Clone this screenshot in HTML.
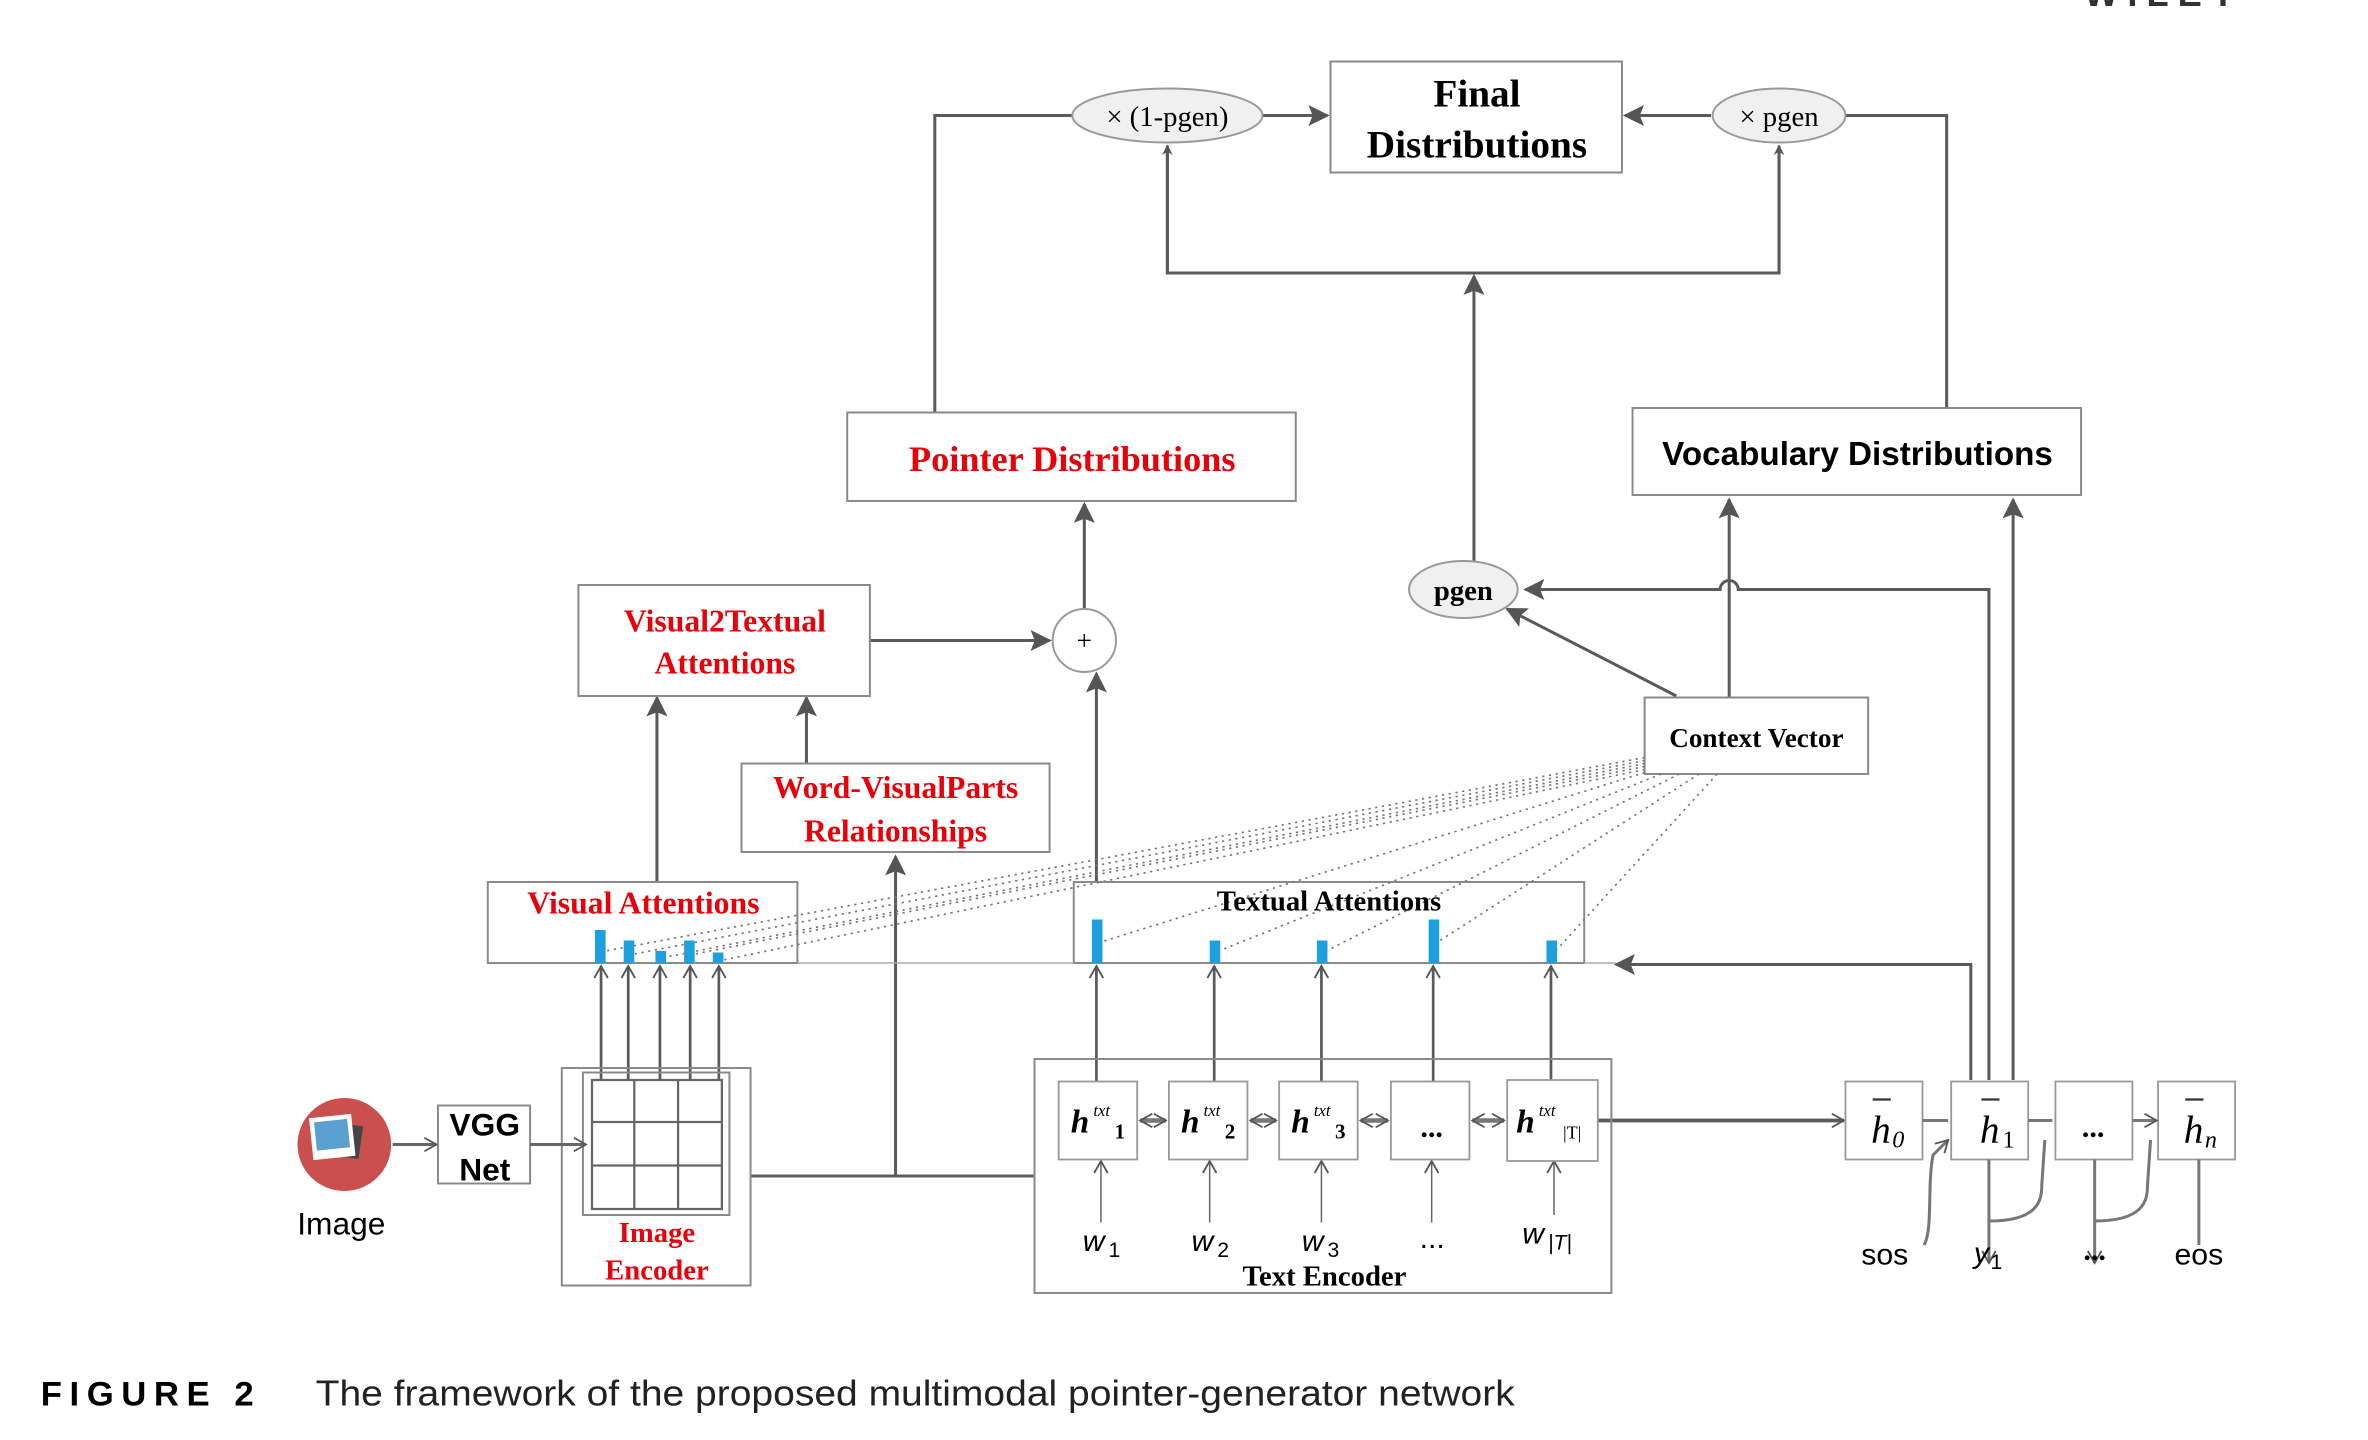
<!DOCTYPE html>
<html><head><meta charset="utf-8"><style>
html,body{margin:0;padding:0;background:#fff;width:2368px;height:1440px;overflow:hidden}
svg{display:block}
.s{font-family:"Liberation Serif",serif;font-weight:bold}
.a{font-family:"Liberation Sans",sans-serif}
</style></head><body>
<svg width="2368" height="1440" viewBox="0 0 1568 960" preserveAspectRatio="none" xmlns="http://www.w3.org/2000/svg">
<defs>
<marker id="m" viewBox="0 0 10 10" refX="9" refY="5" markerWidth="7" markerHeight="7" orient="auto" markerUnits="userSpaceOnUse">
<path d="M0,0 L10,5 L0,10 L3,5 z" fill="#555"/></marker>
<marker id="o" viewBox="0 0 10 10" refX="9" refY="5" markerWidth="10" markerHeight="10" orient="auto" markerUnits="userSpaceOnUse">
<path d="M1,0.5 L9,5 L1,9.5" fill="none" stroke="#555" stroke-width="1.2"/></marker>
<marker id="os" viewBox="0 0 10 10" refX="1" refY="5" markerWidth="10" markerHeight="10" orient="auto" markerUnits="userSpaceOnUse">
<path d="M9,0.5 L1,5 L9,9.5" fill="none" stroke="#555" stroke-width="1.2"/></marker>
<marker id="m2" viewBox="0 0 10 10" refX="9" refY="5" markerWidth="16" markerHeight="14" orient="auto" markerUnits="userSpaceOnUse">
<path d="M0,0 L10,5 L0,10 L2,5 z" fill="#555"/></marker>
</defs>
<g stroke="#5a5a5a" stroke-width="2" fill="none">
<polyline points="619,275 619,77 710,77"/>
<line x1="836" y1="77" x2="879" y2="77" marker-end="url(#m2)"/>
<line x1="1133" y1="77" x2="1076" y2="77" marker-end="url(#m2)"/>
<polyline points="1222,77 1289,77 1289,272"/>
<polyline points="773,99 773,182 1178,182 1178,99"/>
<line x1="773" y1="182" x2="773" y2="97" marker-end="url(#m)"/>
<line x1="1178" y1="182" x2="1178" y2="97" marker-end="url(#m)"/>
<line x1="976" y1="375" x2="976" y2="184" marker-end="url(#m2)"/>
<path d="M1317,720 L1317,393 L1151,393 A6,6 0 0 0 1139,393 L1010,393" marker-end="url(#m2)"/>
<line x1="1110" y1="464" x2="998" y2="406" marker-end="url(#m2)"/>
<line x1="1145" y1="465" x2="1145" y2="333" marker-end="url(#m2)"/>
<line x1="1333" y1="720" x2="1333" y2="333" marker-end="url(#m2)"/>
<line x1="576" y1="427" x2="695" y2="427" marker-end="url(#m2)"/>
<line x1="718" y1="406" x2="718" y2="336" marker-end="url(#m2)"/>
<line x1="726" y1="588" x2="726" y2="449" marker-end="url(#m2)"/>
<line x1="534" y1="509" x2="534" y2="465" marker-end="url(#m2)"/>
<line x1="435" y1="588" x2="435" y2="465" marker-end="url(#m2)"/>
<polyline points="497,784 685,784"/>
<line x1="593" y1="784" x2="593" y2="571" marker-end="url(#m2)"/>
<polyline points="1305,720 1305,643 1070,643" marker-end="url(#m2)"/>
<line x1="1058" y1="747" x2="1221" y2="747" marker-end="url(#o)" stroke-width="2.5"/>
</g>
<g stroke="#5a5a5a" stroke-width="1.8" fill="none" marker-end="url(#o)">
<line x1="398" y1="720" x2="398" y2="644"/><line x1="416" y1="720" x2="416" y2="644"/>
<line x1="437" y1="720" x2="437" y2="644"/><line x1="457" y1="720" x2="457" y2="644"/>
<line x1="476" y1="720" x2="476" y2="644"/>
<line x1="726" y1="721" x2="726" y2="644"/><line x1="804" y1="721" x2="804" y2="644"/>
<line x1="875" y1="721" x2="875" y2="644"/><line x1="949" y1="721" x2="949" y2="644"/>
<line x1="1027" y1="721" x2="1027" y2="644"/>
</g>
<g stroke="#666" stroke-width="1" fill="none" marker-end="url(#o)">
<line x1="729" y1="815" x2="729" y2="774"/><line x1="801" y1="815" x2="801" y2="774"/>
<line x1="875" y1="815" x2="875" y2="774"/><line x1="948" y1="815" x2="948" y2="774"/>
<line x1="1029" y1="810" x2="1029" y2="774"/>
</g>
<g fill="#fff" stroke="#888" stroke-width="1.3">
<rect x="881" y="41" width="193" height="74"/>
<rect x="561" y="275" width="297" height="59"/>
<rect x="1081" y="272" width="297" height="58"/>
<rect x="383" y="390" width="193" height="74"/>
<rect x="491" y="509" width="204" height="59"/>
<rect x="1089" y="465" width="148" height="51"/>
<rect x="323" y="588" width="205" height="54" fill="none"/>
<rect x="711" y="588" width="338" height="54" fill="none"/>
<rect x="372" y="712" width="125" height="145" fill="none"/>
<rect x="386" y="715" width="97" height="95" fill="none"/>
<rect x="685" y="706" width="382" height="156" fill="none"/>
<rect x="290" y="737" width="61" height="52"/>
</g>
<line x1="528" y1="642" x2="711" y2="642" stroke="#aaa" stroke-width="1"/>
<line x1="1049" y1="642" x2="1070" y2="642" stroke="#aaa" stroke-width="1"/>
<g fill="none" stroke="#666" stroke-width="1.5">
<rect x="392" y="720" width="86" height="86"/>
<line x1="420" y1="720" x2="420" y2="806"/><line x1="449" y1="720" x2="449" y2="806"/>
<line x1="392" y1="748" x2="478" y2="748"/><line x1="392" y1="777" x2="478" y2="777"/>
</g>
<line x1="260" y1="763" x2="289" y2="763" stroke="#666" stroke-width="2" marker-end="url(#o)"/>
<line x1="351" y1="763" x2="388" y2="763" stroke="#666" stroke-width="2" marker-end="url(#o)"/>
<g fill="#fff" stroke="#999" stroke-width="1.2">
<rect x="701" y="721" width="52" height="52"/><rect x="774" y="721" width="52" height="52"/>
<rect x="847" y="721" width="52" height="52"/><rect x="921" y="721" width="52" height="52"/>
<rect x="998" y="720" width="60" height="54"/>
<rect x="1222" y="721" width="51" height="52"/><rect x="1292" y="721" width="51" height="52"/>
<rect x="1361" y="721" width="51" height="52"/><rect x="1429" y="721" width="51" height="52"/>
</g>
<g stroke="#777" stroke-width="3" fill="none" marker-start="url(#os)" marker-end="url(#o)">
<path d="M755,747 h17"/><path d="M828,747 h17"/><path d="M901,747 h18"/><path d="M975,747 h21"/>
</g>
<g stroke="#777" stroke-width="2" fill="none">
<path d="M1273,747 h17 M1343,747 h16 M1412,747 h16" marker-end="url(#o)"/>
<path d="M1274,830 C1280,820 1276,790 1280,770 L1290,760" marker-end="url(#o)"/>
<path d="M1317,773 L1317,842" marker-end="url(#o)"/>
<path d="M1317,814 C1350,814 1352,800 1352,790 L1354,760"/>
<path d="M1387,773 L1387,842" marker-end="url(#o)"/>
<path d="M1387,814 C1420,814 1422,800 1422,790 L1424,760"/>
<path d="M1456,773 L1456,830"/>
</g>
<g fill="#f0f0f0" stroke="#999" stroke-width="1.3">
<ellipse cx="773" cy="77" rx="63" ry="18"/>
<ellipse cx="1178" cy="77" rx="44" ry="18"/>
<ellipse cx="969" cy="393" rx="36" ry="19"/>
<circle cx="718" cy="427" r="21" fill="#fff"/>
</g>
<g stroke="#777" stroke-width="1.1" stroke-dasharray="1.5,3" fill="none">
<line x1="1089" y1="505" x2="401" y2="634"/><line x1="1089" y1="507" x2="420" y2="636"/>
<line x1="1089" y1="509" x2="441" y2="638"/><line x1="1089" y1="511" x2="460" y2="636"/>
<line x1="1089" y1="513" x2="479" y2="640"/>
<line x1="1089" y1="515" x2="729" y2="628"/><line x1="1100" y1="516" x2="807" y2="634"/>
<line x1="1112" y1="516" x2="878" y2="634"/><line x1="1125" y1="516" x2="952" y2="628"/>
<line x1="1137" y1="516" x2="1030" y2="634"/>
</g>
<g fill="#1ea0e0">
<rect x="394" y="620" width="7" height="22"/><rect x="413" y="627" width="7" height="15"/>
<rect x="434" y="634" width="7" height="8"/><rect x="453" y="627" width="7" height="15"/>
<rect x="472" y="635" width="7" height="7"/>
<rect x="723" y="613" width="7" height="29"/><rect x="801" y="627" width="7" height="15"/>
<rect x="872" y="627" width="7" height="15"/><rect x="946" y="613" width="7" height="29"/>
<rect x="1024" y="627" width="7" height="15"/>
</g>
<circle cx="228" cy="763" r="31" fill="#c9504e"/>
<rect x="213" y="749" width="26" height="22" fill="#444" transform="rotate(8 226 760)"/>
<rect x="206" y="744" width="28" height="28" fill="#fff" transform="rotate(-6 220 758)"/>
<rect x="209" y="747" width="22" height="19" fill="#5aa0d0" transform="rotate(-6 220 758)"/>
<g class="s" text-anchor="middle">
<text x="978" y="71" font-size="26">Final</text>
<text x="978" y="105" font-size="26">Distributions</text>
<text x="773" y="84" font-size="19" font-weight="normal">× (1-pgen)</text>
<text x="1178" y="84" font-size="19" font-weight="normal">× pgen</text>
<text x="969" y="400" font-size="19">pgen</text>
<text x="718" y="433" font-size="18" font-weight="normal">+</text>
<text x="710" y="314" font-size="24" fill="#e8000b">Pointer Distributions</text>
<text x="480" y="421" font-size="21" fill="#e8000b">Visual2Textual</text>
<text x="480" y="449" font-size="21" fill="#e8000b">Attentions</text>
<text x="593" y="532" font-size="21" fill="#e8000b">Word-VisualParts</text>
<text x="593" y="561" font-size="21" fill="#e8000b">Relationships</text>
<text x="426" y="609" font-size="21" fill="#e8000b">Visual Attentions</text>
<text x="880" y="607" font-size="19">Textual Attentions</text>
<text x="1163" y="498" font-size="18">Context Vector</text>
<text x="435" y="828" font-size="19" fill="#e8000b">Image</text>
<text x="435" y="853" font-size="19" fill="#e8000b">Encoder</text>
<text x="877" y="857" font-size="19">Text Encoder</text>
<text x="948" y="758" font-size="20">...</text>
<text x="1386" y="758" font-size="20">...</text>
<text x="1387" y="840" font-size="20">...</text>
</g>
<g class="a" text-anchor="middle">
<text x="1230" y="310" font-size="22" font-weight="bold">Vocabulary Distributions</text>
<text x="321" y="757" font-size="21" font-weight="bold">VGG</text>
<text x="321" y="787" font-size="21" font-weight="bold">Net</text>
<text x="226" y="823" font-size="21">Image</text>
<text x="1248" y="843" font-size="20">sos</text>
<text x="1456" y="843" font-size="20">eos</text>
</g>
<g font-family="Liberation Serif,serif" font-style="italic" font-size="22" font-weight="bold">
<text x="709" y="755">h</text><text x="724" y="744" font-size="11" font-weight="normal">txt</text><text x="738" y="759" font-size="14" font-style="normal">1</text>
<text x="782" y="755">h</text><text x="797" y="744" font-size="11" font-weight="normal">txt</text><text x="811" y="759" font-size="14" font-style="normal">2</text>
<text x="855" y="755">h</text><text x="870" y="744" font-size="11" font-weight="normal">txt</text><text x="884" y="759" font-size="14" font-style="normal">3</text>
<text x="1004" y="755">h</text><text x="1019" y="744" font-size="11" font-weight="normal">txt</text><text x="1035" y="759" font-size="12" font-style="normal" font-weight="normal">|T|</text>
</g>
<g font-family="Liberation Serif,serif" font-style="italic" font-size="26">
<text x="1239" y="762">h</text><text x="1253" y="765" font-size="16">0</text>
<text x="1311" y="762">h</text><text x="1326" y="765" font-size="16" font-style="normal">1</text>
<text x="1446" y="762">h</text><text x="1460" y="765" font-size="16">n</text>
</g>
<g stroke="#333" stroke-width="1.5"><line x1="1240" y1="733" x2="1252" y2="733"/><line x1="1312" y1="733" x2="1324" y2="733"/><line x1="1447" y1="733" x2="1459" y2="733"/></g>
<g font-family="Liberation Sans,sans-serif" font-style="italic" font-size="20">
<text x="717" y="834">w</text><text x="734" y="838" font-size="14" font-style="normal">1</text>
<text x="789" y="834">w</text><text x="806" y="838" font-size="14" font-style="normal">2</text>
<text x="862" y="834">w</text><text x="879" y="838" font-size="14" font-style="normal">3</text>
<text x="940" y="832" font-style="normal">...</text>
<text x="1008" y="829">w</text><text x="1025" y="833" font-size="14">|T|</text>
<text x="1307" y="842">y</text><text x="1318" y="846" font-size="14" font-style="normal">1</text>
</g>
<text x="27" y="937" font-family="Liberation Sans,sans-serif" font-weight="bold" font-size="23" letter-spacing="4" textLength="145">FIGURE 2</text>
<text x="209" y="937" font-family="Liberation Sans,sans-serif" font-size="24" fill="#222" textLength="794" lengthAdjust="spacingAndGlyphs">The framework of the proposed multimodal pointer-generator network</text>
<text x="1380" y="4" font-family="Liberation Sans,sans-serif" font-weight="bold" font-size="24" fill="#333" letter-spacing="6">WILEY</text>
</svg>
</body></html>
